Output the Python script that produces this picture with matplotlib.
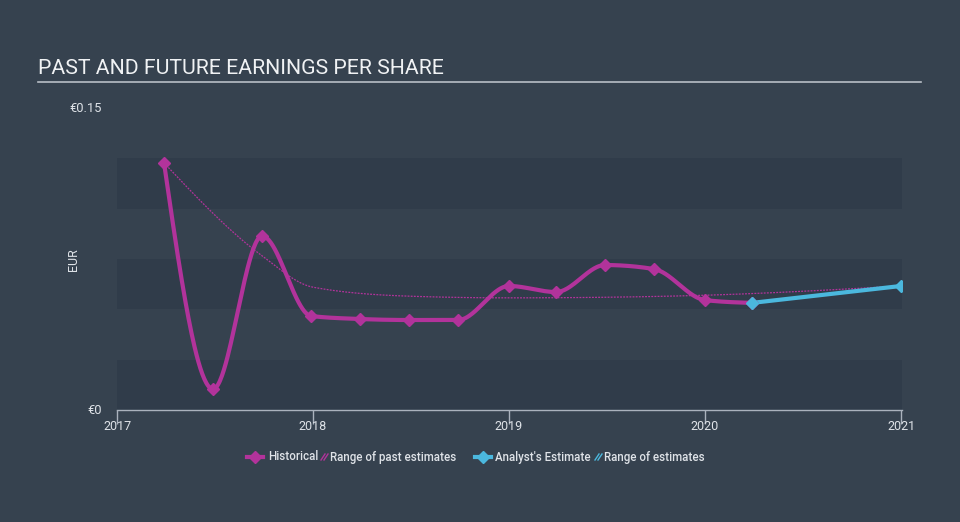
import numpy as np
import matplotlib
matplotlib.use("Agg")
import matplotlib.pyplot as plt
from matplotlib.lines import Line2D

plt.rcParams['font.family'] = ['Roboto', 'DejaVu Sans']

# EPS history (decimal year, EUR)
hist_x = [2017.24, 2017.49, 2017.74, 2017.99, 2018.24, 2018.49, 2018.74,
          2019.00, 2019.24, 2019.49, 2019.74, 2020.00, 2020.24]
hist_y = [0.1227, 0.0104, 0.0864, 0.0467, 0.0452, 0.0447, 0.0447,
          0.0616, 0.0586, 0.0720, 0.0700, 0.0546, 0.0532]

# analyst estimate
est_x = [2020.24, 2021.00]
est_y = [0.0532, 0.0616]

# range of past estimates (thin dotted line)
past_x = [2017.24, 2017.74, 2018.00, 2018.50, 2019.00, 2019.50, 2020.00, 2021.00]
past_y = [0.1227, 0.0766, 0.0610, 0.0565, 0.0557, 0.0560, 0.0570, 0.0616]

year_ticks = [2017, 2018, 2019, 2020, 2021]

BG = "#36424f"
BAND = "#303c4a"
MAGENTA = "#b2339b"
CYAN = "#4bb8de"
TXT = "#dfe3e8"


def monotone(x, y, n=600):
    # monotone-x cubic like d3.curveMonotoneX
    x = np.asarray(x, float)
    y = np.asarray(y, float)
    h = np.diff(x)
    s = np.diff(y) / h
    m = np.zeros_like(y)
    for i in range(1, len(y) - 1):
        p = (s[i - 1] * h[i] + s[i] * h[i - 1]) / (h[i - 1] + h[i])
        m[i] = (np.sign(s[i - 1]) + np.sign(s[i])) * min(
            abs(s[i - 1]), abs(s[i]), 0.5 * abs(p))
    if len(y) > 2:
        m[0] = (3 * s[0] - m[1]) / 2
        m[-1] = (3 * s[-1] - m[-2]) / 2
    else:
        m[:] = s[0]
    xs = np.linspace(x[0], x[-1], n)
    idx = np.clip(np.searchsorted(x, xs) - 1, 0, len(h) - 1)
    t = (xs - x[idx]) / h[idx]
    h00 = 2 * t**3 - 3 * t**2 + 1
    h10 = t**3 - 2 * t**2 + t
    h01 = -2 * t**3 + 3 * t**2
    h11 = t**3 - t**2
    ys = (h00 * y[idx] + h10 * h[idx] * m[idx]
          + h01 * y[idx + 1] + h11 * h[idx] * m[idx + 1])
    return xs, ys


fig = plt.figure(figsize=(9.6, 5.22), dpi=100, facecolor=BG)
ax = fig.add_axes([117 / 960, 1 - 410 / 522, 785 / 960, 302 / 522])
ax.set_facecolor(BG)
ax.set_xlim(2017, 2021.005)
ax.set_ylim(0, 0.15)

# striped bands
for lo in [0, 0.05, 0.10]:
    ax.axhspan(lo, lo + 0.025, color=BAND, zorder=0, lw=0)

px, py = monotone(past_x, past_y)
ax.plot(px, py, color=MAGENTA, lw=0.9, ls=(0, (1.5, 1)), zorder=2)

hx, hy = monotone(hist_x, hist_y)
ax.plot(hx, hy, color=MAGENTA, lw=3, zorder=3, solid_capstyle="round")
ax.plot(hist_x, hist_y, ls="none", marker="D", ms=6, color=MAGENTA, zorder=4)

ax.plot(est_x, est_y, color=CYAN, lw=3, zorder=3)
ax.plot(est_x, est_y, ls="none", marker="D", ms=6, color=CYAN, zorder=4)

for sp in ["top", "right", "left"]:
    ax.spines[sp].set_visible(False)
ax.spines["bottom"].set_color("#aab2bd")
ax.spines["bottom"].set_linewidth(1)
ax.set_yticks([])
ax.set_xticks(year_ticks)
ax.set_xticklabels([str(y) for y in year_ticks])
ax.tick_params(axis="x", colors="#aab2bd", length=10, width=1, pad=-3,
               labelcolor=TXT, labelsize=9)

# y labels
fig.text(102 / 960, 1 - 108 / 522, "€0.15", color=TXT, fontsize=9.3,
         ha="right", va="center")
fig.text(102 / 960, 1 - 410 / 522, "€0", color=TXT, fontsize=9.3,
         ha="right", va="center")
fig.text(73 / 960, 1 - 260 / 522, "EUR", color=TXT, fontsize=9,
         rotation=90, ha="center", va="center")

# title
fig.text(38 / 960, 1 - 69 / 522, "PAST AND FUTURE EARNINGS PER SHARE",
         color="#f0f2f4", fontsize=15.3, ha="left", va="center")
fig.add_artist(Line2D([38 / 960, 921 / 960], [1 - 81.5 / 522] * 2,
                      color="#b8bec6", lw=1.2))

# legend
ly = 1 - 457 / 522


def leg_marker(x, color):
    fig.add_artist(Line2D([(x - 8) / 960, (x + 8) / 960], [ly, ly],
                          color=color, lw=3))
    fig.add_artist(Line2D([x / 960], [ly], marker="D", ms=6, color=color))


def leg_hatch(x, color):
    for dx in (0, 3):
        fig.add_artist(Line2D([(x + dx) / 960, (x + dx + 4) / 960],
                              [ly - 3 / 522, ly + 3 / 522],
                              color=color, lw=1))


leg_marker(255, MAGENTA)
fig.text(268 / 960, ly, "Historical", color=TXT, fontsize=8.3, ha="left",
         va="center", fontweight="medium")
leg_hatch(321, MAGENTA)
fig.text(330 / 960, ly, "Range of past estimates", color=TXT, fontsize=8.3,
         ha="left", va="center", fontweight="medium")
leg_marker(483, CYAN)
fig.text(495 / 960, ly, "Analyst's Estimate", color=TXT, fontsize=8.3,
         ha="left", va="center", fontweight="medium")
leg_hatch(595, CYAN)
fig.text(604 / 960, ly, "Range of estimates", color=TXT, fontsize=8.3,
         ha="left", va="center", fontweight="medium")

fig.savefig("out.png", dpi=100, facecolor=BG)
